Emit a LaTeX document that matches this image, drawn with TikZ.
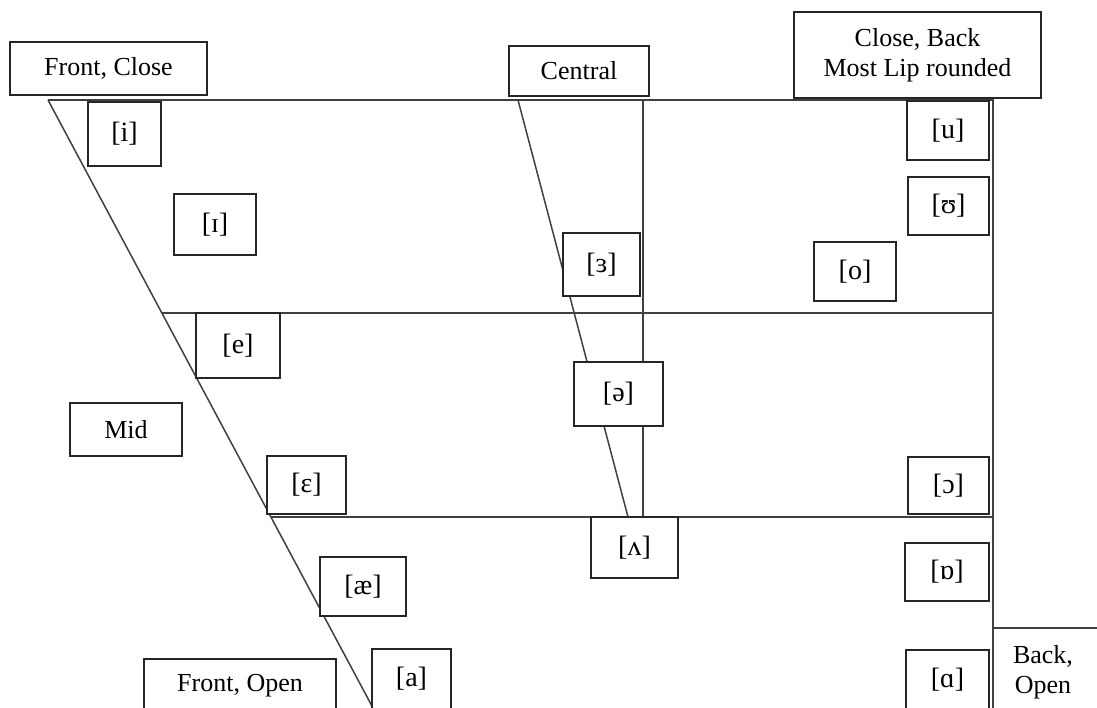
\documentclass[tikz,border=0pt]{standalone}
\usepackage{fontspec}
\setmainfont{Liberation Serif}
\tikzset{
  bx/.style={draw=black!85, line width=1.2pt, fill=white, inner sep=0pt,
    font=\fontsize{26}{30}\selectfont, align=center},
  ipa/.style={font=\fontsize{28}{32}\selectfont},
  grid/.style={draw=black!75, line width=1.5pt},
  slant/.style={draw=black!75, line width=1.5pt},
  lbl/.style={inner sep=0pt, font=\fontsize{26}{30}\selectfont, align=center}
}
\newcommand\mybox[7][]{\node[bx,#1,minimum width={(#5-#3)*1pt},minimum height={(#6-#4)*1pt}] (#2) at ({(#3+#5)/2},{(#4+#6)/2}) {#7};}
\begin{document}
\begin{tikzpicture}[x=1pt,y=-1pt]
\useasboundingbox (0,0) rectangle (1097,708);
% structural coordinates
\coordinate (tl) at (48,100);
\coordinate (tr) at (993,100);
\coordinate (bl) at (373,708);
\coordinate (br) at (993,708);
\coordinate (ml) at (162,313);
\coordinate (mr) at (993,313);
\coordinate (ll) at (271,517);
\coordinate (lr) at (993,517);
\coordinate (ct) at (518,100);
\coordinate (cb) at (628,517);
\coordinate (vt) at (643,100);
\coordinate (vb) at (643,517);
\coordinate (ol) at (993,628);
\coordinate (or) at (1097,628);
% lines
\draw[grid] (tl) -- (tr) -- (br);
\draw[grid] (ml) -- (mr);
\draw[grid] (ll) -- (lr);
\draw[grid] (vt) -- (vb);
\draw[grid] (ol) -- (or);
\draw[slant] (tl) -- (bl);
\draw[slant] (ct) -- (cb);
% boxes
\mybox{fc}{10}{42}{207}{95}{Front, Close}
\mybox{cen}{509}{46}{649}{96}{Central}
\mybox{cbk}{794}{12}{1041}{98}{Close, Back\\Most Lip rounded}
\mybox[ipa]{i}{88}{102}{161}{166}{[i]}
\mybox[ipa]{ii}{174}{194}{256}{255}{[ɪ]}
\mybox[ipa]{er}{563}{233}{640}{296}{[ɜ]}
\mybox[ipa]{schwa}{574}{362}{663}{426}{[ə]}
\mybox[ipa]{wedge}{591}{517}{678}{578}{[ʌ]}
\mybox[ipa]{u}{907}{101}{989}{160}{[u]}
\mybox[ipa]{uu}{908}{177}{989}{235}{[ʊ]}
\mybox[ipa]{o}{814}{242}{896}{301}{[o]}
\mybox[ipa]{e}{196}{313}{280}{378}{[e]}
\mybox{mid}{70}{403}{182}{456}{Mid}
\mybox[ipa]{eps}{267}{456}{346}{514}{[ɛ]}
\mybox[ipa]{oo}{908}{457}{989}{514}{[ɔ]}
\mybox[ipa]{ae}{320}{557}{406}{616}{[æ]}
\mybox[ipa]{a}{372}{649}{451}{709}{[a]}
\mybox{fo}{144}{659}{336}{712}{Front, Open}
\mybox[ipa]{ob}{905}{543}{989}{601}{[ɒ]}
\mybox[ipa]{aa}{906}{650}{989}{710}{[ɑ]}
\node[lbl] (bo) at (1043,672) {Back,\\Open};
\end{tikzpicture}
\end{document}
